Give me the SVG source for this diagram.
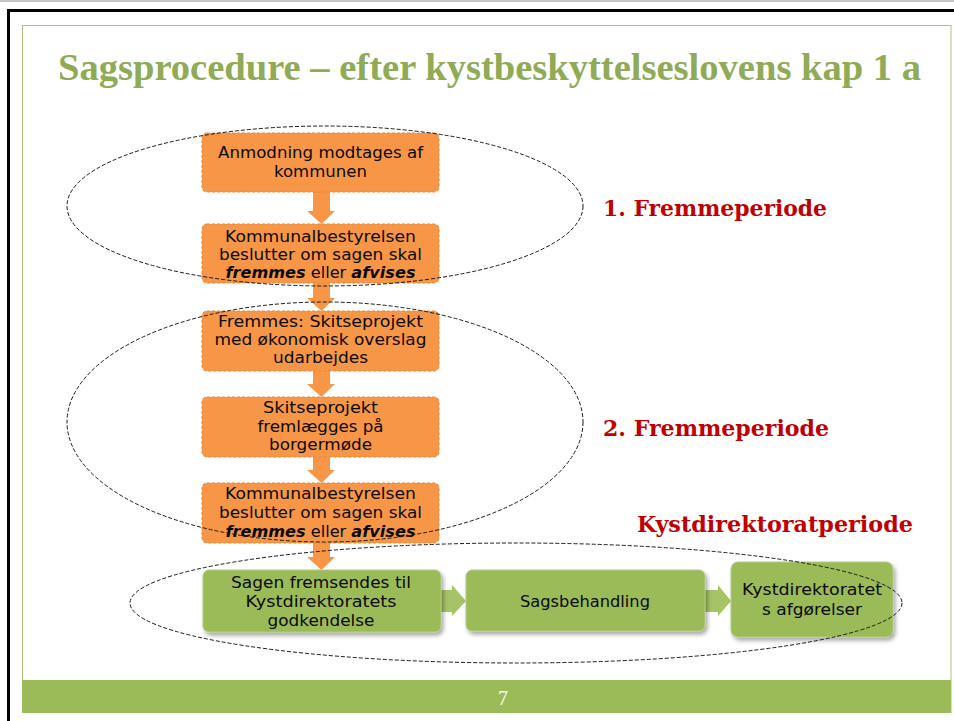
<svg xmlns="http://www.w3.org/2000/svg" width="954" height="721" viewBox="0 0 954 721">
<style>
  .title{font-family:"Liberation Serif","Times New Roman",serif;font-weight:bold;font-size:38px;fill:#8FAB55}
  .lbl{font-family:"DejaVu Serif","Liberation Serif",serif;font-weight:bold;font-size:22px;fill:#C00000}
  .bt{font-family:"DejaVu Sans","Liberation Sans",sans-serif;font-size:15.5px;fill:#0a0a0a;text-anchor:middle}
  .em{font-style:italic;font-weight:bold}
  .ob{fill:#F79646;stroke:#E5863A;stroke-width:1;stroke-dasharray:3 2}
  .gb{fill:#9BBB59;stroke:#B3CB85;stroke-width:1;filter:url(#sh)}
  .oa{fill:#F79646}
  .ga{fill:#A6C366}
  .ell{fill:none;stroke:#1a1a1a;stroke-width:1;stroke-dasharray:4 2}
</style>
<defs>
  <filter id="sh" x="-10%" y="-10%" width="125%" height="135%">
    <feDropShadow dx="2" dy="3" stdDeviation="2" flood-color="#000" flood-opacity="0.35"/>
  </filter>
</defs>
<rect width="954" height="721" fill="#fff"/>
<rect x="0" y="0" width="954" height="2" fill="#c8c8c8"/>
<rect x="7" y="9" width="947" height="3" fill="#000"/>
<rect x="7" y="9" width="3" height="712" fill="#000"/>
<rect x="22.5" y="25.5" width="928.5" height="687" fill="none" stroke="#A9C47A" stroke-width="1"/>
<rect x="22" y="680" width="929" height="33" fill="#9BBB59"/>
<text x="503" y="705" font-family="Liberation Serif, serif" font-size="20" fill="#fff" text-anchor="middle">7</text>
<text class="title" x="58" y="80" textLength="863" lengthAdjust="spacingAndGlyphs">Sagsprocedure – efter kystbeskyttelseslovens kap 1 a</text>

<g id="connectors">
  <polygon class="oa" points="313,192 330,192 330,211 335,211 321.5,224 307,211 313,211"/>
  <polygon class="oa" points="313,283 330,283 330,298 335,298 321.5,311 307,298 313,298"/>
  <polygon class="oa" points="313,371 330,371 330,384 335,384 321.5,397 307,384 313,384"/>
  <polygon class="oa" points="313,457 330,457 330,470 335,470 321.5,483 307,470 313,470"/>
  <polygon class="oa" points="313,543 330,543 330,557 335,557 321.5,570 307,557 313,557"/>
  <polygon class="ga" points="441,590 452,590 452,585 466,601 452,616 452,612 441,612"/>
  <polygon class="ga" points="705,590 718,590 718,585 731,601 718,616 718,612 705,612"/>
</g>

<g id="n1">
  <rect class="ob" x="202" y="133" width="237" height="59" rx="5"/>
  <text class="bt" x="320.5" y="158" textLength="205" lengthAdjust="spacingAndGlyphs">Anmodning modtages af</text>
  <text class="bt" x="320.5" y="177" textLength="93" lengthAdjust="spacingAndGlyphs">kommunen</text>
</g>
<g id="n2">
  <rect class="ob" x="202" y="224" width="237" height="59" rx="5"/>
  <text class="bt" x="320.5" y="242" textLength="191" lengthAdjust="spacingAndGlyphs">Kommunalbestyrelsen</text>
  <text class="bt" x="320.5" y="260" textLength="203" lengthAdjust="spacingAndGlyphs">beslutter om sagen skal</text>
  <text class="bt" x="320.5" y="278" textLength="190" lengthAdjust="spacingAndGlyphs"><tspan class="em">fremmes</tspan> eller <tspan class="em">afvises</tspan></text>
</g>
<g id="n3">
  <rect class="ob" x="202" y="311" width="237" height="60" rx="5"/>
  <text class="bt" x="320.5" y="327" textLength="205" lengthAdjust="spacingAndGlyphs">Fremmes: Skitseprojekt</text>
  <text class="bt" x="320.5" y="345" textLength="212" lengthAdjust="spacingAndGlyphs">med økonomisk overslag</text>
  <text class="bt" x="320.5" y="363" textLength="95" lengthAdjust="spacingAndGlyphs">udarbejdes</text>
</g>
<g id="n4">
  <rect class="ob" x="202" y="397" width="237" height="60" rx="5"/>
  <text class="bt" x="320.5" y="413" textLength="115" lengthAdjust="spacingAndGlyphs">Skitseprojekt</text>
  <text class="bt" x="320.5" y="432" textLength="126" lengthAdjust="spacingAndGlyphs">fremlægges på</text>
  <text class="bt" x="320.5" y="450" textLength="103" lengthAdjust="spacingAndGlyphs">borgermøde</text>
</g>
<g id="n5">
  <rect class="ob" x="202" y="483" width="237" height="60" rx="5"/>
  <text class="bt" x="320.5" y="499" textLength="191" lengthAdjust="spacingAndGlyphs">Kommunalbestyrelsen</text>
  <text class="bt" x="320.5" y="518" textLength="203" lengthAdjust="spacingAndGlyphs">beslutter om sagen skal</text>
  <text class="bt" x="320.5" y="537" textLength="190" lengthAdjust="spacingAndGlyphs"><tspan class="em">fremmes</tspan> eller <tspan class="em">afvises</tspan></text>
</g>
<g id="g1">
  <rect class="gb" x="203" y="570" width="238" height="62" rx="6"/>
  <text class="bt" x="321" y="588" textLength="180" lengthAdjust="spacingAndGlyphs">Sagen fremsendes til</text>
  <text class="bt" x="321" y="607" textLength="151" lengthAdjust="spacingAndGlyphs">Kystdirektoratets</text>
  <text class="bt" x="321" y="626" textLength="107" lengthAdjust="spacingAndGlyphs">godkendelse</text>
</g>
<g id="g2">
  <rect class="gb" x="466" y="570" width="239" height="61" rx="6"/>
  <text class="bt" x="585" y="607" textLength="130" lengthAdjust="spacingAndGlyphs">Sagsbehandling</text>
</g>
<g id="g3">
  <rect class="gb" x="731" y="562" width="162" height="75" rx="7"/>
  <text class="bt" x="812" y="595" textLength="140" lengthAdjust="spacingAndGlyphs">Kystdirektoratet</text>
  <text class="bt" x="812" y="615" textLength="100" lengthAdjust="spacingAndGlyphs">s afgørelser</text>
</g>

<g id="periods">
  <ellipse class="ell" cx="325" cy="206" rx="258" ry="80"/>
  <ellipse class="ell" cx="325" cy="422" rx="258" ry="120"/>
  <ellipse class="ell" cx="516" cy="603" rx="386" ry="60"/>
  <text class="lbl" x="603" y="216" textLength="224" lengthAdjust="spacingAndGlyphs">1. Fremmeperiode</text>
  <text class="lbl" x="603" y="436" textLength="226" lengthAdjust="spacingAndGlyphs">2. Fremmeperiode</text>
  <text class="lbl" x="637" y="532" textLength="276" lengthAdjust="spacingAndGlyphs">Kystdirektoratperiode</text>
</g>
</svg>
